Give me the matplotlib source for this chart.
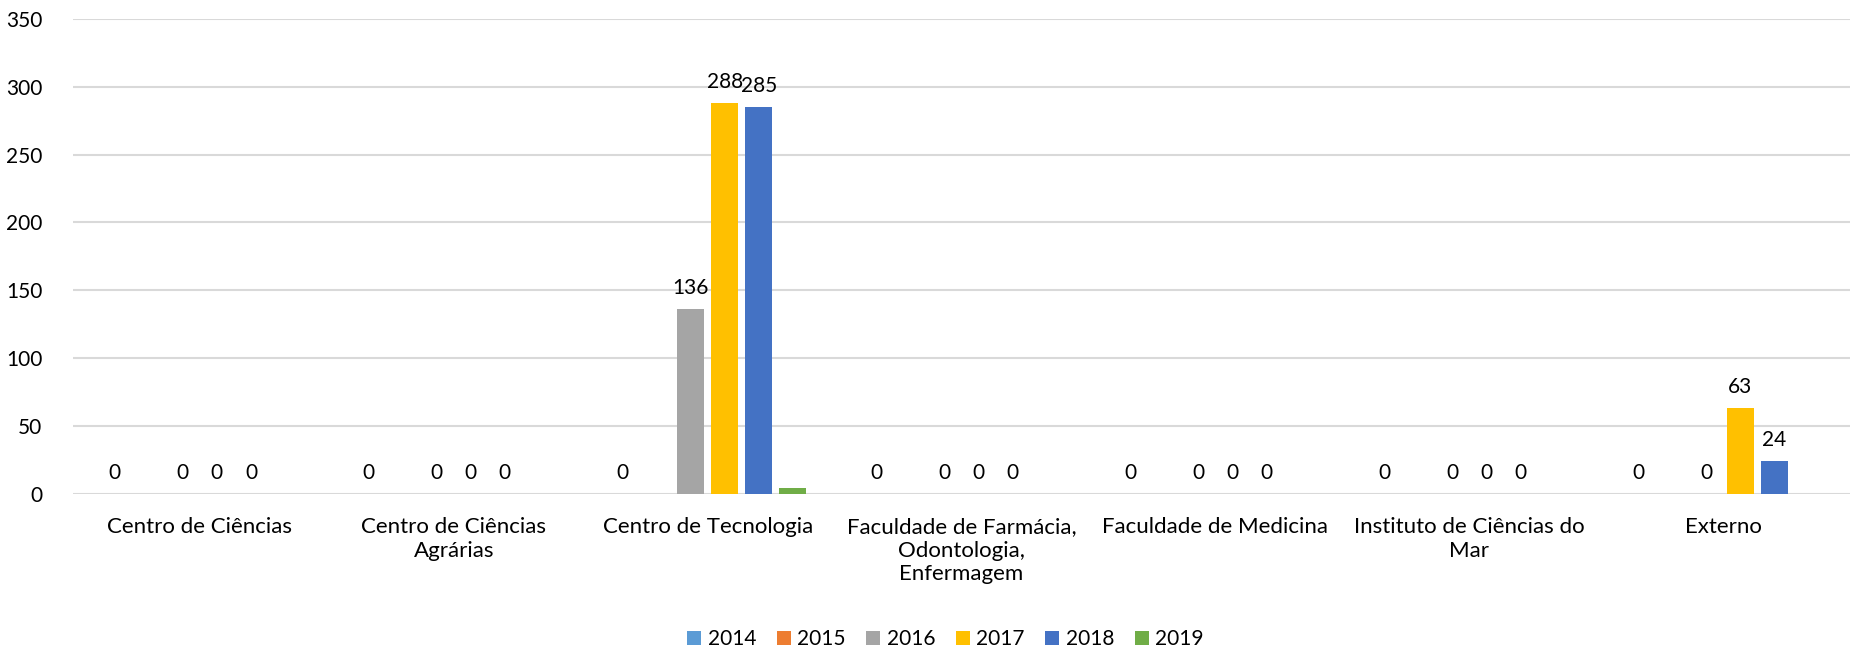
import matplotlib
matplotlib.use("Agg")
import matplotlib.pyplot as plt
import numpy as np

plt.rcParams['font.family'] = ['Lato', 'DejaVu Sans']

categories = ["Centro de Ciências", "Centro de Ciências\nAgrárias", "Centro de Tecnologia",
              "Faculdade de Farmácia,\nOdontologia,\nEnfermagem", "Faculdade de Medicina",
              "Instituto de Ciências do\nMar", "Externo"]
years = ["2014", "2015", "2016", "2017", "2018", "2019"]
v2014 = [0, 0, 0, 0, 0, 0, 0]
v2015 = [0, 0, 0, 0, 0, 0, 0]
v2016 = [0, 0, 136, 0, 0, 0, 0]
v2017 = [0, 0, 288, 0, 0, 0, 63]
v2018 = [0, 0, 285, 0, 0, 0, 24]
v2019 = [0, 0, 4, 0, 0, 0, 0]
series = [v2014, v2015, v2016, v2017, v2018, v2019]
colors = ["#5B9BD5", "#ED7D31", "#A5A5A5", "#FFC000", "#4472C4", "#70AD47"]
labeled = [True, False, True, True, True, False]

fig = plt.figure(figsize=(18.52, 6.48), dpi=100)
ax = fig.add_axes([0.0394, 0.238, 0.9596, 0.733])

x = np.arange(len(categories))
slot = 0.134
bw = 0.106
fs = 15
fs_cat = 16
for i, (vals, c, lab) in enumerate(zip(series, colors, labeled)):
    pos = x + (i - 2.5) * slot
    bars = ax.bar(pos, vals, width=bw, color=c, label=years[i], zorder=3)
    if lab:
        for p, v in zip(pos, vals):
            ax.text(p, v + 8, f"{v}", ha='center', va='bottom', fontsize=fs, color='#000000')

ax.set_xlim(-0.5, len(categories) - 0.5)
ax.set_ylim(0, 350)
ax.set_yticks(np.arange(0, 351, 50))
ax.yaxis.grid(True, color='#D9D9D9', linewidth=1.5, zorder=0)
ax.set_axisbelow(True)
for s in ax.spines.values():
    s.set_visible(False)
ax.tick_params(axis='both', length=0, labelsize=fs, colors='#000000')
ax.tick_params(axis='y', pad=22)
ax.tick_params(axis='x', pad=17, labelsize=fs_cat)
ax.set_xticks(x)
ax.set_xticklabels(categories, linespacing=1.2)

leg = fig.legend(loc='center', bbox_to_anchor=(0.5105, 0.014), ncol=6, frameon=False,
                 fontsize=fs, handlelength=0.67, handleheight=0.67, handletextpad=0.3,
                 columnspacing=1.0)
fig.savefig("out.png", dpi=100)
